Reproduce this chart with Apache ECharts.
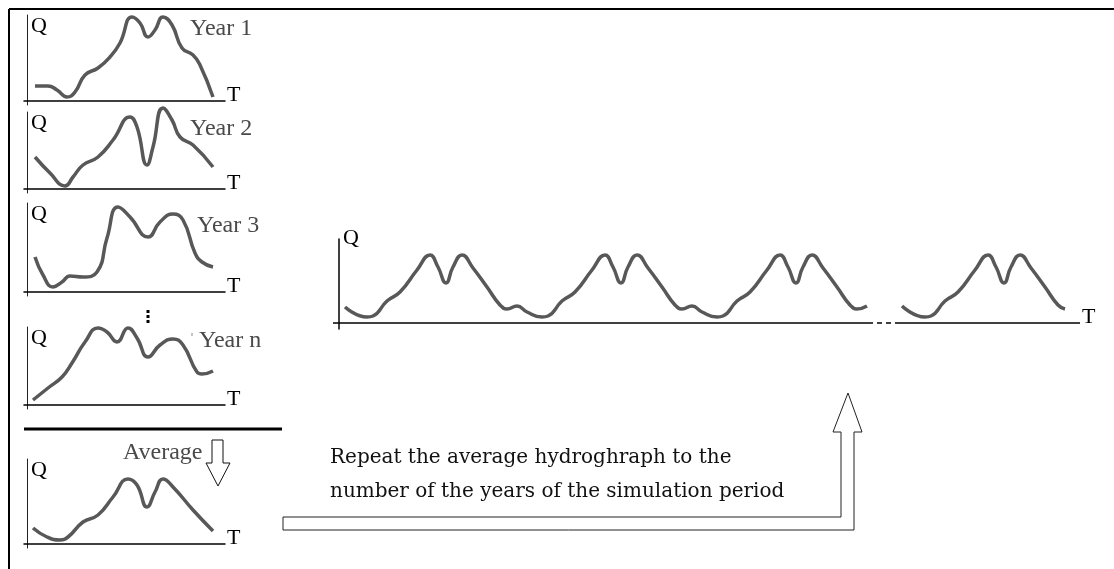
<!DOCTYPE html>
<html><head><meta charset="utf-8">
<script src="https://cdn.jsdelivr.net/npm/echarts/dist/echarts.min.js"></script>
<style>html,body{margin:0;padding:0;background:#fff}#c{width:1114px;height:569px}</style>
</head><body><div id="c"></div><script>
// ---- data (T = time step, Q = discharge level) ----
const year1 = [[8,15],[21,15],[30,11],[40,4],[48,9],[58,26],[71,33],[83,44],[93,58],[105,84],[113,78],[121,64],[128,71],[136,84],[145,76],[155,53],[166,46],[173,36],[186,4]];
const year2 = [[8,32],[23,16],[38,3],[46,12],[56,24],[71,32],[86,49],[103,72],[110,62],[120,24],[126,42],[136,81],[145,69],[153,52],[166,44],[186,22]];
const year3 = [[8,35],[16,17],[26,5],[35,10],[43,16],[56,15],[70,20],[80,54],[91,85],[103,75],[121,55],[133,70],[146,78],[156,72],[168,39],[175,30],[186,25]];
const yearN = [[6,5],[21,17],[35,28],[45,42],[58,63],[71,77],[80,73],[90,63],[101,77],[110,67],[121,48],[133,60],[146,66],[156,60],[170,33],[175,31],[186,34]];
const average = [[6,16],[20,7],[33,4],[41,7],[56,22],[71,29],[86,47],[101,65],[110,59],[120,37],[128,52],[136,65],[146,57],[166,34],[186,13]];
// one cycle of the repeated average hydrograph (offset from its low point, Q)
const cycle = [[0,6],[6,7],[20,22],[33,31],[50,53],[63,68],[71,56],[79,40],[86,56],[95,68],[106,55],[120,36],[133,18],[140,14],[150,17],[160,11]];
const repeatLows = [28, 203, 378];   // low points of the continuous run
const lastLow = 586;                 // low point of the final year
const leadIn = [[-22,16]];
const lastLeadIn = [[-23,17]];
const runEnd = 150, lastEnd = 140;
const labels = ['Year 1','Year 2','Year 3','Year n','Average'];
const textLines = ['Repeat the average hydroghraph to the','number of the years of the simulation period'];

// ---- layout ----
const smallLayout = [
  {top:15, qMax:86, lx:190, ly:29},
  {top:112, qMax:77, lx:190, ly:129},
  {top:203, qMax:89, lx:197, ly:226},
  {top:327, qMax:78, lx:199, ly:341},
  {top:459, qMax:85, lx:123, ly:453}
];
const smallData = [year1, year2, year3, yearN, average];
const serif = '"Liberation Serif", "Times New Roman", serif';
const curveColor = '#585858';

const grids = [], xAxes = [], yAxes = [], series = [];
function axisPair(i, xmin, xmax, ymin, ymax, lw) {
  xAxes.push({type:'value', gridIndex:i, min:xmin, max:xmax, name:'T', nameLocation:'end', nameGap:2,
    nameTextStyle:{fontFamily:serif, fontSize:22, color:'#000', align:'left', verticalAlign:'bottom', lineHeight:12},
    axisLine:{show:true, onZero:true, lineStyle:{color:'#000', width:lw}},
    axisTick:{show:false}, axisLabel:{show:false}, splitLine:{show:false}});
  yAxes.push({type:'value', gridIndex:i, min:ymin, max:ymax, name:'Q', nameLocation:'end', nameGap:0,
    nameTextStyle:{fontFamily:serif, fontSize:22, color:'#000', align:'left', verticalAlign:'top', padding:[0,0,0,4]},
    axisLine:{show:true, onZero:true, lineStyle:{color:'#222', width:1}},
    axisTick:{show:false}, axisLabel:{show:false}, splitLine:{show:false}});
}
smallLayout.forEach((L, i) => {
  grids.push({left:24, top:L.top, width:201, height:L.qMax + 4});
  axisPair(i, -3, 198, -4, L.qMax, 1.5);
  series.push({type:'line', xAxisIndex:i, yAxisIndex:i, data:smallData[i], smooth:0.5, showSymbol:false, clip:false,
    lineStyle:{color:curveColor, width:3.5}});
});

// big chart
const bigIdx = 5;
grids.push({left:333, top:239, width:747, height:90});
axisPair(bigIdx, -6, 741, -6, 84, 1.5);
xAxes[bigIdx].axisLine.show = false;
yAxes[bigIdx].nameGap = 12;
yAxes[bigIdx].axisLine.lineStyle = {color:'#000', width:1.5};

const run1 = leadIn.map(p => [repeatLows[0] + p[0], p[1]]);
repeatLows.forEach((lo, k) => {
  cycle.forEach(p => {
    if (k < repeatLows.length - 1 || p[0] <= runEnd) run1.push([lo + p[0], p[1]]);
  });
});
const run2 = lastLeadIn.map(p => [lastLow + p[0], p[1]]);
cycle.forEach(p => { if (p[0] <= lastEnd) run2.push([lastLow + p[0], p[1]]); });

const gapFrom = 529, gapTo = 556;
const solid = {color:'#000', width:1.5, type:'solid'};
const dashed = {color:'#000', width:1.5, type:[5,4]};
series.push({type:'line', xAxisIndex:bigIdx, yAxisIndex:bigIdx, data:run1, smooth:0.5, showSymbol:false, clip:false,
  lineStyle:{color:curveColor, width:3.5},
  markLine:{silent:true, symbol:['none','none'], label:{show:false}, lineStyle:solid,
    emphasis:{disabled:true},
    data:[
      [{coord:[-6,0], lineStyle:solid},{coord:[gapFrom,0]}],
      [{coord:[gapFrom,0], lineStyle:dashed},{coord:[gapTo,0]}],
      [{coord:[gapTo,0], lineStyle:solid},{coord:[741,0]}]
    ]}});
series.push({type:'line', xAxisIndex:bigIdx, yAxisIndex:bigIdx, data:run2, smooth:0.5, showSymbol:false, clip:false,
  lineStyle:{color:curveColor, width:3.5}});

// annotations
const graphic = [
  {type:'line', shape:{x1:9,y1:9,x2:1114,y2:9}, style:{stroke:'#000', lineWidth:2}},
  {type:'line', shape:{x1:9,y1:9,x2:9,y2:569}, style:{stroke:'#000', lineWidth:2}},
  {type:'line', shape:{x1:24,y1:429,x2:282,y2:429}, style:{stroke:'#000', lineWidth:3}},
  {type:'rect', shape:{x:146.5,y:310,width:3,height:3}, style:{fill:'#000'}},
  {type:'rect', shape:{x:146.5,y:315,width:3,height:3}, style:{fill:'#000'}},
  {type:'rect', shape:{x:146.5,y:320,width:3,height:3}, style:{fill:'#000'}},
  {type:'line', shape:{x1:192,y1:333,x2:192,y2:336}, style:{stroke:'#888', lineWidth:1}},
  {type:'polygon', shape:{points:[[212,440],[223,440],[223,463],[230,463],[218,486],[206,463],[212,463]]},
    style:{fill:'#fff', stroke:'#111', lineWidth:1}},
  {type:'polygon', shape:{points:[[283,517],[841,517],[841,432],[833,432],[848,393],[862,432],[854,432],[854,530],[283,530]]},
    style:{fill:'none', stroke:'#222', lineWidth:1}}
];
smallLayout.forEach((L, i) => {
  graphic.push({type:'text', x:L.lx, y:L.ly, style:{text:labels[i], font:'24px ' + serif, fill:'#4a4a4a', verticalAlign:'middle'}});
});
graphic.push({type:'text', x:330, y:458, style:{text:textLines[0], font:'20px "DejaVu Serif", serif', fill:'#111', verticalAlign:'middle'}});
graphic.push({type:'text', x:330, y:492, style:{text:textLines[1], font:'20px "DejaVu Serif", serif', fill:'#111', verticalAlign:'middle'}});

const chart = echarts.init(document.getElementById('c'), null, {renderer:'canvas'});
chart.setOption({animation:false, backgroundColor:'#fff', grid:grids, xAxis:xAxes, yAxis:yAxes, series, graphic});
</script></body></html>
